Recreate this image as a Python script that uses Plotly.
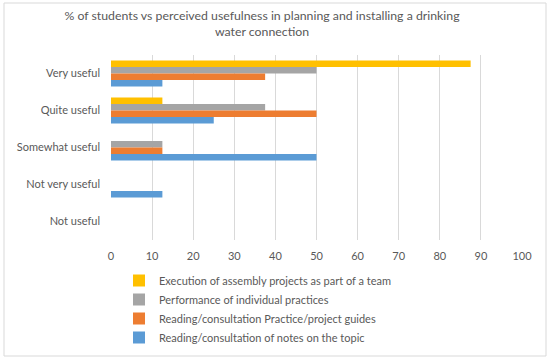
import plotly.graph_objects as go

categories = ["Very useful", "Quite useful", "Somewhat useful", "Not very useful", "Not useful"]
series_names = [
    "Execution of assembly projects as part of a team",
    "Performance of individual practices",
    "Reading/consultation Practice/project guides",
    "Reading/consultation of notes on the topic",
]
execution_team = [87.5, 12.5, 0, 0, 0]
individual_practices = [50, 37.5, 12.5, 0, 0]
practice_guides = [37.5, 50, 12.5, 0, 0]
notes_topic = [12.5, 25, 50, 12.5, 0]
x_ticks = [0, 10, 20, 30, 40, 50, 60, 70, 80, 90, 100]
colors = ["#FFC000", "#A5A5A5", "#ED7D31", "#5B9BD5"]

FONT = "Lato"
L, R, T, B = 111, 28, 55, 119
PW, PH = 550 - L - R, 359 - T - B

fig = go.Figure()
for name, vals, c in zip(series_names,
                         [execution_team, individual_practices, practice_guides, notes_topic],
                         colors):
    fig.add_trace(go.Bar(y=categories, x=vals, name=name, orientation="h",
                         marker=dict(color=c, line=dict(width=0))))

fig.update_layout(
    width=550, height=359,
    margin=dict(l=L, r=R, t=T, b=B, autoexpand=False),
    paper_bgcolor="white", plot_bgcolor="white",
    font=dict(family=FONT, size=11, color="#595959"),
    title=dict(text="% of students vs perceived usefulness in planning and installing a drinking<br>water connection",
               x=262 / 550, xanchor="center", xref="container",
               y=1 - 20 / 359, yanchor="top", yref="container",
               font=dict(size=12.3, color="#595959", family=FONT)),
    barmode="group", bargap=0.3, bargroupgap=0,
    showlegend=True,
    legend=dict(x=(119 - L) / PW, xanchor="left", y=-(266 - (T + PH)) / PH, yanchor="top",
                orientation="v", traceorder="normal",
                font=dict(size=11, color="#595959", family=FONT),
                bgcolor="rgba(0,0,0,0)"),
    shapes=[dict(type="rect", xref="paper", yref="paper",
                 x0=-(L - 4) / PW, x1=1 + (546 - (L + PW)) / PW,
                 y0=-(356 - (T + PH)) / PH, y1=1 + (T - 3) / PH,
                 line=dict(color="#D9D9D9", width=1), fillcolor="rgba(0,0,0,0)", layer="below")],
)
fig.update_xaxes(range=[0, 100], tickvals=x_ticks, showgrid=True, gridcolor="#D9D9D9",
                 gridwidth=1, zeroline=False, showline=False, ticks="", automargin=False,
                 ticklabelstandoff=8,
                 tickfont=dict(size=11, color="#595959"))
fig.update_yaxes(autorange="reversed", showgrid=False, zeroline=False, showline=False,
                 ticks="", automargin=False, ticklabelstandoff=10,
                 tickfont=dict(size=11, color="#595959"))

fig.write_html("out.html", config={"displayModeBar": False},
               post_script="document.body.style.margin='0';document.body.style.padding='0';")
